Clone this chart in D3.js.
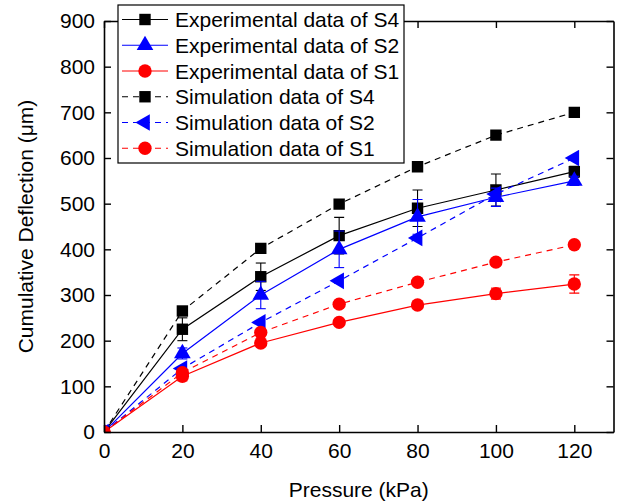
<!DOCTYPE html>
<html>
<head>
<meta charset="utf-8">
<script src="https://cdn.jsdelivr.net/npm/d3@7"></script>
<style>
  body { margin: 0; background: #fff; }
  svg { display: block; font-family: "Liberation Sans", Arial, sans-serif; }
</style>
</head>
<body>
<svg width="622" height="504"></svg>
<script>
// data
const pressure = [0, 20, 40, 60, 80, 100, 120]
const expS4 = [0, 225, 340, 430, 490, 530, 570]
const expS4Err = [0, 25, 30, 40, 40, 35, 12]
const expS2 = [0, 172, 300, 400, 471, 514, 550]
const expS2Err = [0, 12, 30, 40, 38, 20, 10]
const expS1 = [0, 122, 195, 240, 278, 303, 324]
const expS1Err = [0, 10, 5, 5, 6, 12, 20]
const simS4 = [0, 265, 402, 499, 581, 650, 700]
const simS2 = [0, 139, 240, 331, 425, 521, 600]
const simS1 = [0, 130, 218, 280, 328, 372, 410]
const xTicks = [0, 20, 40, 60, 80, 100, 120]
const yTicks = [0, 100, 200, 300, 400, 500, 600, 700, 800, 900]
const legendLabels = ["Experimental data of S4", "Experimental data of S2", "Experimental data of S1",
    "Simulation data of S4", "Simulation data of S2", "Simulation data of S1"]

const series = [
    {values: expS4, err: expS4Err, color: "#000", dash: null, shape: "square"},
    {values: expS2, err: expS2Err, color: "#0000ff", dash: null, shape: "up"},
    {values: expS1, err: expS1Err, color: "#ff0000", dash: null, shape: "circle"},
    {values: simS4, err: null, color: "#000", dash: "6,5", shape: "square"},
    {values: simS2, err: null, color: "#0000ff", dash: "6,5", shape: "left"},
    {values: simS1, err: null, color: "#ff0000", dash: "6,5", shape: "circle"}
]

const margin = {top: 21, right: 8.5, bottom: 72, left: 104}
const width = 622 - margin.left - margin.right
const height = 504 - margin.top - margin.bottom
const fontSize = 21

const x = d3.scaleLinear().domain([0, 130]).range([0, width])
const y = d3.scaleLinear().domain([0, 900]).range([height, 0])

const svg = d3.select("svg")
const g = svg.append("g").attr("transform", `translate(${margin.left},${margin.top})`)

g.append("clipPath").attr("id", "clip")
    .append("rect").attr("width", width).attr("height", height)

// marker path generators
const symbols = {
    square: d3.symbol().type(d3.symbolSquare).size(130),
    circle: d3.symbol().type(d3.symbolCircle).size(140),
    up: d3.symbol().type(d3.symbolTriangle).size(120),
    left: d3.symbol().type(d3.symbolTriangle).size(120)
}
const rot = shape => shape === "left" ? " rotate(-90)" : ""

const plot = g.append("g").attr("clip-path", "url(#clip)")

const line = d3.line()
    .x((d, i) => x(pressure[i]))
    .y(d => y(d))

series.forEach(s => {
    const sg = plot.append("g")
    sg.append("path")
        .datum(s.values)
        .attr("d", line)
        .attr("fill", "none")
        .attr("stroke", s.color)
        .attr("stroke-width", 1.2)
        .attr("stroke-dasharray", s.dash)

    if (s.err) {
        const eb = sg.selectAll(".err")
            .data(s.values.map((v, i) => ({p: pressure[i], v: v, e: s.err[i]})).filter(d => d.e > 0))
            .enter().append("g")
            .attr("stroke", s.color)
            .attr("stroke-width", 1.1)
        eb.append("line")
            .attr("x1", d => x(d.p)).attr("x2", d => x(d.p))
            .attr("y1", d => y(d.v - d.e)).attr("y2", d => y(d.v + d.e))
        eb.append("line")
            .attr("x1", d => x(d.p) - 5).attr("x2", d => x(d.p) + 5)
            .attr("y1", d => y(d.v + d.e)).attr("y2", d => y(d.v + d.e))
        eb.append("line")
            .attr("x1", d => x(d.p) - 5).attr("x2", d => x(d.p) + 5)
            .attr("y1", d => y(d.v - d.e)).attr("y2", d => y(d.v - d.e))
    }

    sg.selectAll(".pt")
        .data(s.values)
        .enter().append("path")
        .attr("d", symbols[s.shape]())
        .attr("transform", (d, i) => `translate(${x(pressure[i])},${y(d)})` + rot(s.shape))
        .attr("fill", s.color)
})

// axes, ticks pointing inward on all four sides
const tickLen = 7
const axBottom = g.append("g").attr("transform", `translate(0,${height})`)
    .call(d3.axisBottom(x).tickValues(xTicks).tickSizeInner(-tickLen).tickSizeOuter(0).tickPadding(11))
const axTop = g.append("g")
    .call(d3.axisTop(x).tickValues(xTicks).tickSizeInner(-tickLen).tickSizeOuter(0).tickFormat(""))
const axLeft = g.append("g")
    .call(d3.axisLeft(y).tickValues(yTicks).tickSizeInner(-tickLen).tickSizeOuter(0).tickPadding(9))
const axRight = g.append("g").attr("transform", `translate(${width},0)`)
    .call(d3.axisRight(y).tickValues(yTicks).tickSizeInner(-tickLen).tickSizeOuter(0).tickFormat(""))

;[axBottom, axTop, axLeft, axRight].forEach(a => {
    a.select(".domain").attr("stroke", "#000").attr("stroke-width", 1.6)
    a.selectAll(".tick line").attr("stroke", "#000").attr("stroke-width", 1.4)
    a.selectAll("text").attr("font-size", fontSize).attr("fill", "#000")
        .attr("font-family", "Liberation Sans, Arial, sans-serif")
})

// axis titles
svg.append("text")
    .attr("x", margin.left + width / 2)
    .attr("y", 497)
    .attr("text-anchor", "middle")
    .attr("font-size", fontSize)
    .text("Pressure (kPa)")

svg.append("text")
    .attr("transform", `translate(33,${margin.top + height / 2}) rotate(-90)`)
    .attr("text-anchor", "middle")
    .attr("font-size", fontSize)
    .text("Cumulative Deflection (\u03bcm)")

// legend
const legend = svg.append("g")
legend.append("rect")
    .attr("x", 118).attr("y", 5)
    .attr("width", 286).attr("height", 158)
    .attr("fill", "#fff")
    .attr("stroke", "#000")
    .attr("stroke-width", 1.2)

const rowStep = 25.75
series.forEach((s, i) => {
    const cy = 19.5 + i * rowStep
    const row = legend.append("g")
    row.append("line")
        .attr("x1", 122).attr("x2", 168)
        .attr("y1", cy).attr("y2", cy)
        .attr("stroke", s.color)
        .attr("stroke-width", 1.2)
        .attr("stroke-dasharray", s.dash)
    row.append("path")
        .attr("d", symbols[s.shape]())
        .attr("transform", `translate(145,${cy})` + rot(s.shape))
        .attr("fill", s.color)
    row.append("text")
        .attr("x", 175).attr("y", cy + 7.5)
        .attr("font-size", fontSize)
        .text(legendLabels[i])
})
</script>
</body>
</html>
